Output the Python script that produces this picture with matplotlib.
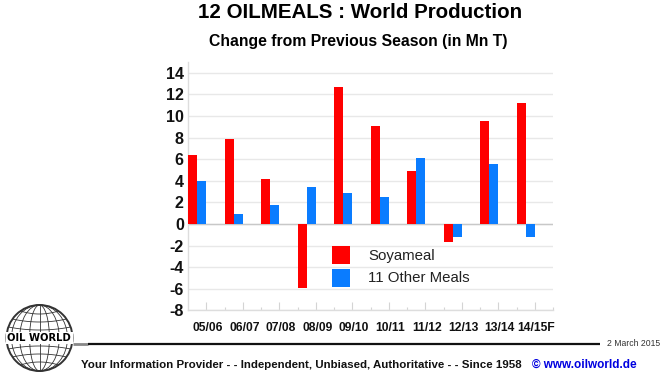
#!/usr/bin/env python3
# -*- coding: utf-8 -*-
import matplotlib
matplotlib.use('Agg')
import matplotlib.pyplot as plt
import numpy as np
from matplotlib.patches import Ellipse, Circle, Rectangle
from matplotlib.transforms import offset_copy

plt.rcParams['font.family'] = ['Liberation Sans', 'DejaVu Sans']

# Data
seasons = ['05/06', '06/07', '07/08', '08/09', '09/10', '10/11', '11/12', '12/13', '13/14', '14/15F']
soyameal = [6.4, 7.85, 4.2, -5.9, 12.7, 9.05, 4.9, -1.7, 9.5, 11.2]
other_meals = [4.0, 0.95, 1.8, 3.4, 2.9, 2.5, 6.1, -1.2, 5.6, -1.2]
y_ticks = [14, 12, 10, 8, 6, 4, 2, 0, -2, -4, -6, -8]

W, H = 672, 372
RED = '#ff0000'
BLUE = '#0a7cff'
GRID = '#e8e8e8'


def px_rect(left, top, right, bottom):
    # figure fractions from pixel edges
    return [left / W, 1 - bottom / H, (right - left) / W, (bottom - top) / H]


fig = plt.figure(figsize=(W / 100, H / 100), dpi=100)
ax = fig.add_axes(px_rect(188, 62, 553, 310.4))

x = np.arange(len(seasons))
ax.bar(x - 0.5, soyameal, width=0.25, align='edge', color=RED, zorder=3)
ax.bar(x - 0.25, other_meals, width=0.25, align='edge', color=BLUE, zorder=3)

ax.set_xlim(-0.5, 9.5)
ax.set_ylim(-8, 15)
ax.set_yticks(y_ticks)
ax.set_xticks(x)
ax.set_xticks(x + 0.5, minor=True)
ax.set_xticklabels(seasons, fontsize=8.7, fontweight='bold', color='#111111')
ax.set_yticklabels([str(v) for v in y_ticks], fontsize=11.6, fontweight='bold', color='#111111')
ax.tick_params(axis='y', length=0, pad=3)
ax.tick_params(axis='x', which='major', direction='in', length=6, width=0.8, color='#d4d4d4', pad=8)
ax.tick_params(axis='x', which='minor', direction='in', length=2, width=0.8, color='#d4d4d4')
# season labels sit a little right of their ticks
for lab in ax.get_xticklabels():
    lab.set_transform(offset_copy(lab.get_transform(), fig=fig, x=1.5, units='dots'))
ax.grid(axis='y', color=GRID, linewidth=1, zorder=0)
ax.axhline(0, color='#c8c8c8', linewidth=1, zorder=2)
for side in ['top', 'right']:
    ax.spines[side].set_visible(False)
for side in ['left', 'bottom']:
    ax.spines[side].set_color('#dddddd')
    ax.spines[side].set_linewidth(1)

# overlay in pixel coordinates for titles, legend, footer and logo
ov = fig.add_axes([0, 0, 1, 1], zorder=5)
ov.set_xlim(0, W)
ov.set_ylim(H, 0)
ov.axis('off')
ov.patch.set_alpha(0)

ov.text(360, 12.5, '12 OILMEALS : World Production', fontsize=14.8, fontweight='bold',
        ha='center', va='center', color='black')
ov.text(358.5, 41.5, 'Change from Previous Season (in Mn T)', fontsize=11.3, fontweight='bold',
        ha='center', va='center', color='black')

# legend
ov.add_patch(Rectangle((332, 246), 18, 18, facecolor=RED, edgecolor='none'))
ov.add_patch(Rectangle((332, 269), 18, 18, facecolor=BLUE, edgecolor='none'))
ov.text(368, 256, 'Soyameal', fontsize=10.8, va='center', color='#222222')
ov.text(368, 278.5, '11 Other Meals', fontsize=10.8, va='center', color='#222222')

# footer
ov.plot([73, 88], [344, 344], color='#888888', lw=2, solid_capstyle='butt')
ov.plot([88, 600], [344, 344], color='#111111', lw=1.6, solid_capstyle='butt')
ov.text(607, 343.5, '2 March 2015', fontsize=6.2, va='center', color='#333333')
ov.text(81, 365, 'Your Information Provider - - Independent, Unbiased, Authoritative - - Since 1958',
        fontsize=8.28, fontweight='bold', va='center', color='#111111')
ov.text(532, 365, '© www.oilworld.de', fontsize=8.45, fontweight='bold', va='center', color='#0000e0')

# logo: wire globe with a banner across it
cx, cy, r = 39.5, 338, 33
ink = '#333333'
ov.add_patch(Circle((cx, cy), r, fill=False, ec=ink, lw=1.4))
for w in [0.3, 0.6, 0.85]:
    ov.add_patch(Ellipse((cx, cy), 2 * r * w, 2 * r, fill=False, ec=ink, lw=0.6))
ov.plot([cx, cx], [cy - r, cy + r], color=ink, lw=0.6)
for dy in [-27, -19, -11, 11, 19, 27]:
    half = np.sqrt(r ** 2 - dy ** 2)
    t = np.linspace(-1, 1, 40)
    ov.plot(cx + half * t, cy + dy - np.sign(dy) * 3 * (1 - t ** 2), color=ink, lw=0.6)
ov.add_patch(Rectangle((6, 332), 67, 11.5, facecolor='white', edgecolor='none', zorder=4))
ov.text(39, 338, 'OIL WORLD', fontsize=7.2, fontweight='bold', ha='center', va='center',
        color='black', zorder=5, family=['DejaVu Sans'])

fig.savefig('out.png', dpi=100)
